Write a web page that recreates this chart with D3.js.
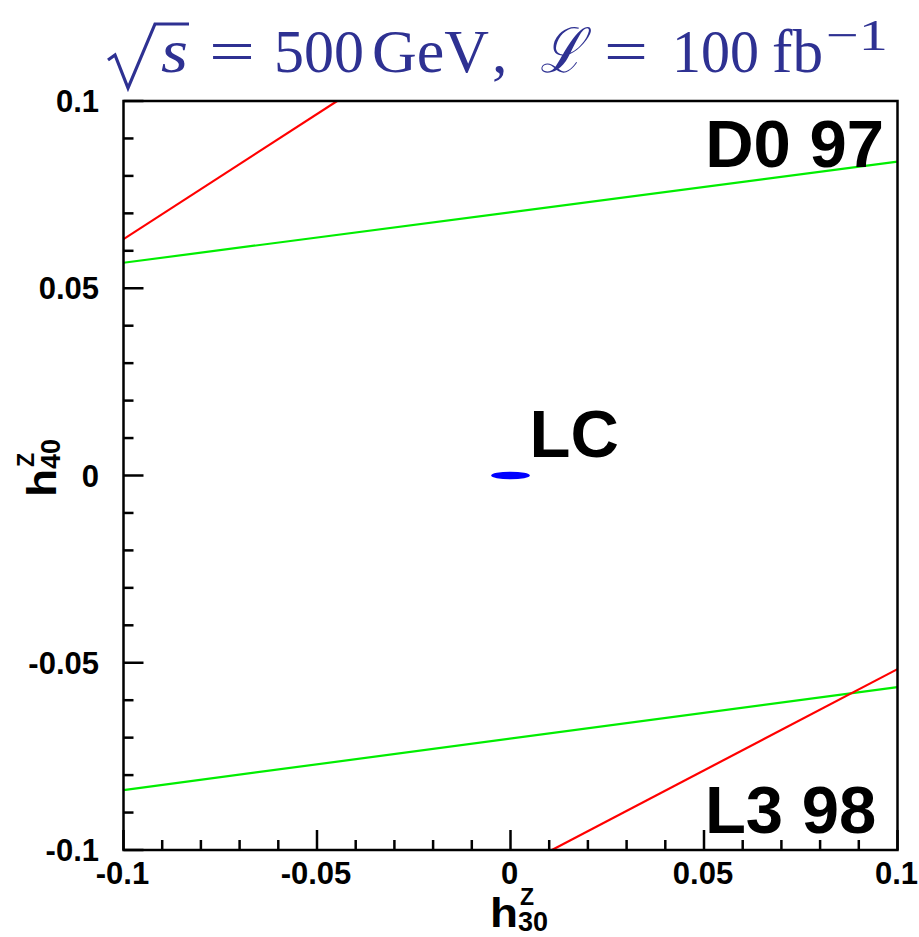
<!DOCTYPE html>
<html>
<head>
<meta charset="utf-8">
<script src="https://cdn.jsdelivr.net/npm/d3@7/dist/d3.min.js"></script>
<style>
  body { margin: 0; background: #fff; }
  svg { display: block; }
</style>
</head>
<body>
<svg id="chart" width="919" height="937"></svg>
<script>
// ---- data ----
const xDomain = [-0.1, 0.1];
const yDomain = [-0.1, 0.1];
const majorTicks = [-0.1, -0.05, 0, 0.05, 0.1];
const majorTickLabels = ["-0.1", "-0.05", "0", "0.05", "0.1"];
const minorTicks = [-0.09, -0.08, -0.07, -0.06, -0.04, -0.03, -0.02, -0.01,
                    0.01, 0.02, 0.03, 0.04, 0.06, 0.07, 0.08, 0.09];

// D0 97 contour pieces (h30, h40)
const d0Red   = [[-0.1, 0.0631], [-0.0448, 0.1]];
const d0Green = [[-0.1, 0.0568], [0.1, 0.0838]];
// L3 98 contour pieces
const l3Green = [[-0.1, -0.0840], [0.1, -0.0565]];
const l3Red   = [[0.0107, -0.1], [0.1, -0.0517]];
// LC ellipse: centre and semi-axes
const lcCenter = [0, 0];
const lcSemi = [0.005, 0.001];

const labels = [
  { text: "D0 97", x: 0.0965, y: 0.0825, anchor: "end" },
  { text: "LC", x: 0.0049, y: 0.0050, anchor: "start" },
  { text: "L3 98", x: 0.0945, y: -0.0955, anchor: "end" }
];

// ---- drawing ----
(function () {
const svg = d3.select("#chart");
const pL = 123.5, pR = 897.5, pT = 101, pB = 850;
const x = d3.scaleLinear().domain(xDomain).range([pL, pR]);
const y = d3.scaleLinear().domain(yDomain).range([pB, pT]);

svg.append("rect").attr("width", 919).attr("height", 937).attr("fill", "#fff");

svg.append("defs").append("clipPath").attr("id", "clip")
  .append("rect").attr("x", pL).attr("y", pT)
  .attr("width", pR - pL).attr("height", pB - pT);

const plot = svg.append("g").attr("clip-path", "url(#clip)");
const line = d3.line().x(d => x(d[0])).y(d => y(d[1]));

[[d0Red, "#ff0000"], [d0Green, "#00ee00"], [l3Green, "#00ee00"], [l3Red, "#ff0000"]]
  .forEach(([pts, col]) => {
    plot.append("path").attr("d", line(pts)).attr("fill", "none")
      .attr("stroke", col).attr("stroke-width", 2.2);
  });

plot.append("ellipse")
  .attr("cx", x(lcCenter[0])).attr("cy", y(lcCenter[1]))
  .attr("rx", x(lcSemi[0]) - x(0)).attr("ry", y(0) - y(lcSemi[1]))
  .attr("fill", "#0000ff");

// frame
svg.append("rect").attr("x", pL).attr("y", pT)
  .attr("width", pR - pL).attr("height", pB - pT)
  .attr("fill", "none").attr("stroke", "#000").attr("stroke-width", 2.5);

// ticks (inside, left and bottom only)
const tickG = svg.append("g").attr("stroke", "#000").attr("stroke-width", 2.5);
majorTicks.forEach(t => {
  tickG.append("line").attr("x1", x(t)).attr("x2", x(t)).attr("y1", pB).attr("y2", pB - 20);
  tickG.append("line").attr("y1", y(t)).attr("y2", y(t)).attr("x1", pL).attr("x2", pL + 20);
});
minorTicks.forEach(t => {
  tickG.append("line").attr("x1", x(t)).attr("x2", x(t)).attr("y1", pB).attr("y2", pB - 10);
  tickG.append("line").attr("y1", y(t)).attr("y2", y(t)).attr("x1", pL).attr("x2", pL + 10);
});

const font = "'Liberation Sans', Arial, Helvetica, sans-serif";
// tick labels
majorTicks.forEach((t, i) => {
  svg.append("text").attr("x", x(t) - 1).attr("y", 884)
    .attr("text-anchor", "middle").attr("font-family", font)
    .attr("font-weight", "bold").attr("font-size", 31).text(majorTickLabels[i]);
  svg.append("text").attr("x", 99).attr("y", y(t) + 11)
    .attr("text-anchor", "end").attr("font-family", font)
    .attr("font-weight", "bold").attr("font-size", 31).text(majorTickLabels[i]);
});

// big labels
labels.forEach(l => {
  svg.append("text").attr("x", x(l.x)).attr("y", y(l.y))
    .attr("text-anchor", l.anchor).attr("font-family", font)
    .attr("font-weight", "bold").attr("font-size", 67).text(l.text);
});

// axis titles: "h" plus a stacked superscript Z / subscript index in one text
function axisTitle(g, sub) {
  g.append("text").attr("x", 0).attr("y", 0).attr("font-family", font)
    .attr("font-weight", "bold").attr("font-size", 40)
    .attr("textLength", 28).attr("lengthAdjust", "spacingAndGlyphs").text("h");
  const t = g.append("text").attr("font-family", font).attr("font-weight", "bold");
  t.append("tspan").attr("x", 30).attr("y", -22).attr("font-size", 23).text("Z");
  t.append("tspan").attr("x", 28).attr("y", 4).attr("font-size", 27).text(sub);
}
axisTitle(svg.append("g").attr("transform", "translate(490,927)"), "30");
axisTitle(svg.append("g").attr("transform", "translate(56,497) rotate(-90)"), "40");

// title
const tcol = "#2e3192";
const serif = "'Liberation Serif', 'Times New Roman', serif";
const tg = svg.append("g").attr("fill", tcol).attr("font-family", serif).attr("font-size", 62);
svg.append("path")
  .attr("d", "M108,60 L115,55 L128,88 L155,24 L189,24")
  .attr("fill", "none").attr("stroke", tcol).attr("stroke-width", 3.2)
  .attr("stroke-linejoin", "miter");
function piece(txt, x0, len, opts = {}) {
  const t = tg.append("text").attr("x", x0).attr("y", opts.y || 72).text(txt);
  if (len) t.attr("textLength", len).attr("lengthAdjust", "spacingAndGlyphs");
  if (opts.italic) t.attr("font-style", "italic");
  if (opts.size) t.attr("font-size", opts.size);
  return t;
}
piece("s", 161, 27, { italic: true });
piece("=", 209, 46);
piece("500", 274, 90);
piece("GeV", 372, 117);
piece(",", 492, 0);
piece("ℒ", 540, 44, { italic: true });
piece("=", 604, 44);
piece("100", 672, 87);
piece("fb", 772, 51);
piece("−1", 826, 62, { y: 50, size: 44 });
})();
</script>
</body>
</html>
